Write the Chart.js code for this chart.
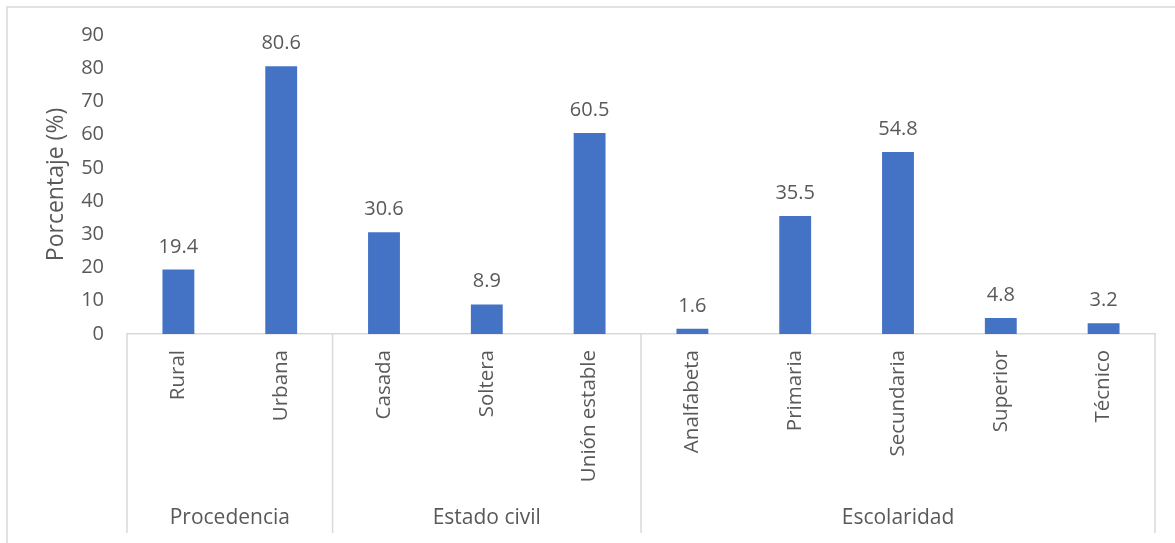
<!DOCTYPE html>
<html>
<head>
<meta charset="utf-8">
<script src="https://cdn.jsdelivr.net/npm/chart.js@4/dist/chart.umd.min.js"></script>
<style>
  html, body { margin: 0; padding: 0; background: #fff; }
  #wrap { position: relative; width: 1175px; height: 543px; }
</style>
</head>
<body>
<div id="wrap"><canvas id="chart" width="1175" height="543"></canvas></div>
<script>
'use strict';

/*--- data ---*/
var categories = ['Rural', 'Urbana', 'Casada', 'Soltera', 'Unión estable',
  'Analfabeta', 'Primaria', 'Secundaria', 'Superior', 'Técnico'];
var values = [19.4, 80.6, 30.6, 8.9, 60.5, 1.6, 35.5, 54.8, 4.8, 3.2];
var groupNames = ['Procedencia', 'Estado civil', 'Escolaridad'];
var groupSizes = [2, 3, 5];
var yTicks = [0, 10, 20, 30, 40, 50, 60, 70, 80, 90];

var textColor = '#595959';
var lineColor = '#d9d9d9';
var fontFamily = '"Open Sans", "Noto Sans", sans-serif';

/*--- value labels above bars ---*/
var valueLabels = {
  id: 'valueLabels',
  afterDatasetsDraw: function (chart) {
    var ctx = chart.ctx;
    var meta = chart.getDatasetMeta(0);
    ctx.save();
    ctx.font = '20px ' + fontFamily;
    ctx.fillStyle = textColor;
    ctx.textAlign = 'center';
    ctx.textBaseline = 'alphabetic';
    meta.data.forEach(function (bar, i) {
      ctx.fillText(values[i].toFixed(1), bar.x, bar.y - 17);
    });
    ctx.restore();
  }
};

/*--- group dividers, group names and outer frame ---*/
var groupAxis = {
  id: 'groupAxis',
  afterDraw: function (chart) {
    var ctx = chart.ctx;
    var x = chart.scales.x;
    var area = chart.chartArea;
    var bottom = 533;
    ctx.save();
    ctx.strokeStyle = lineColor;
    ctx.lineWidth = 1.5;

    // frame (top and left only, the picture is cropped)
    ctx.beginPath();
    ctx.moveTo(7, 543);
    ctx.lineTo(7, 7);
    ctx.lineTo(1175, 7);
    ctx.stroke();

    var start = 0;
    ctx.font = '21px ' + fontFamily;
    ctx.fillStyle = textColor;
    ctx.textAlign = 'center';
    ctx.textBaseline = 'middle';
    for (var g = 0; g <= groupSizes.length; g++) {
      var px = x.getPixelForValue(start - 0.5);
      ctx.beginPath();
      ctx.moveTo(px, area.bottom);
      ctx.lineTo(px, bottom);
      ctx.stroke();
      if (g < groupSizes.length) {
        var end = start + groupSizes[g];
        var mid = (x.getPixelForValue(start - 0.5) + x.getPixelForValue(end - 0.5)) / 2;
        ctx.fillText(groupNames[g], mid, 518);
        start = end;
      }
    }
    ctx.restore();
  }
};

new Chart(document.getElementById('chart'), {
  type: 'bar',
  data: {
    labels: categories,
    datasets: [{
      data: values,
      backgroundColor: '#4472c4',
      borderWidth: 0,
      categoryPercentage: 1,
      barPercentage: 0.31
    }]
  },
  options: {
    responsive: false,
    animation: false,
    events: [],
    layout: { padding: { left: 30, right: 20, top: 35, bottom: 0 } },
    plugins: {
      legend: { display: false },
      tooltip: { enabled: false }
    },
    scales: {
      x: {
        grid: { display: false, drawTicks: false },
        border: { display: true, color: lineColor, width: 1.5 },
        ticks: {
          color: textColor,
          font: { family: fontFamily, size: 20.5 },
          maxRotation: 90,
          minRotation: 90,
          autoSkip: false,
          padding: 16
        },
        afterFit: function (scale) { scale.height = 209; }
      },
      y: {
        min: 0,
        max: 90,
        grid: { display: false, drawTicks: false },
        border: { display: false },
        afterBuildTicks: function (scale) {
          scale.ticks = yTicks.map(function (v) { return { value: v }; });
        },
        ticks: {
          color: textColor,
          font: { family: fontFamily, size: 20 },
          padding: 23
        },
        title: {
          display: true,
          text: 'Porcentaje (%)',
          color: textColor,
          font: { family: fontFamily, size: 23 },
          padding: { top: 13, bottom: 0 }
        },
        afterFit: function (scale) { scale.width = 97; }
      }
    }
  },
  plugins: [valueLabels, groupAxis]
});
</script>
</body>
</html>
